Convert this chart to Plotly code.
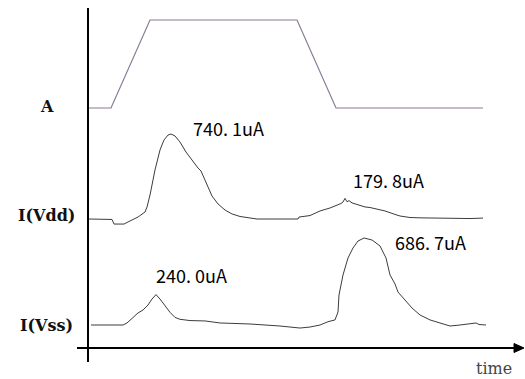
import plotly.graph_objects as go

# ---- data (time in arbitrary units) ----
time_A = [1, 23, 62, 209, 248, 395]
A_level = [0, 0, 1, 1, 0, 0]

time_vdd = [1, 12, 24, 26, 36, 42, 50, 57, 59, 62, 67, 72, 76, 80, 83, 87, 92, 98,
            105, 110, 113, 118, 124, 130, 137, 144, 152, 162, 169, 210, 211, 222,
            232, 242, 250, 253, 255, 257, 259, 261, 264, 267, 272, 277, 282, 287,
            292, 297, 302, 307, 312, 317, 322, 332, 342, 352, 362, 372, 382, 395]
I_vdd = [0, 0, -4, -44, -44, -17, 17, 61, 104, 209, 427, 601, 688, 731, 740.1, 723,
         670, 583, 496, 444, 418, 314, 200, 131, 78, 44, 22, 9, 0, 0, 17, 30,
         70, 96, 122, 135, 148, 179.8, 150, 160, 140, 131, 122, 105, 100, 87,
         80, 70, 52, 40, 26, 20, 13, 10, 9, 5, 4, 6, 4, 8]

time_vss = [3, 35, 39, 45, 50, 55, 60, 64, 68, 72, 77, 82, 87, 92, 102, 117, 132,
            162, 192, 212, 222, 232, 240, 247, 250, 251, 255, 260, 265, 270, 276,
            284, 292, 298, 302, 307, 310, 317, 324, 332, 342, 352, 362, 372, 382,
            388, 391, 395, 398]
I_vss = [0, 0, 16, 55, 95, 118, 158, 205, 240.0, 205, 150, 100, 60, 45, 35, 32,
         16, 8, -8, -24, -16, 0, 26, 40, 103, 237, 395, 529, 608, 663, 686.7, 671,
         624, 529, 395, 324, 260, 197, 134, 79, 40, 16, -8, 0, 8, 16, 4, 0, 0]

peak_labels = ["740. 1uA", "179. 8uA", "240. 0uA", "686. 7uA"]
signal_names = ["A", "I(Vdd)", "I(Vss)"]

# ---- layout constants ----
W, H = 525, 379
A_base, A_gain = 271, 88
vdd_base, vdd_gain = 160, 85 / 740.1
vss_base, vss_gain = 54, 87 / 686.7

fig = go.Figure()
fig.add_trace(go.Scatter(x=time_A, y=[A_base + v * A_gain for v in A_level],
                         mode="lines", line=dict(color="#8a7a98", width=1.2),
                         hoverinfo="skip"))
fig.add_trace(go.Scatter(x=time_vdd, y=[vdd_base + v * vdd_gain for v in I_vdd],
                         mode="lines", line=dict(color="#3c3c3c", width=1),
                         hoverinfo="skip"))
fig.add_trace(go.Scatter(x=time_vss, y=[vss_base + v * vss_gain for v in I_vss],
                         mode="lines", line=dict(color="#3c3c3c", width=1),
                         hoverinfo="skip"))

# axes drawn as shapes (vertical, horizontal with arrow)
shapes = [
    dict(type="line", xref="x", yref="y", x0=0, x1=0, y0=17, y1=371,
         line=dict(color="black", width=2)),
    dict(type="line", xref="x", yref="y", x0=-11, x1=428, y0=31, y1=31,
         line=dict(color="black", width=2)),
    dict(type="path", xref="x", yref="y",
         path="M 426 35.5 L 436 31 L 426 26.5 Z",
         fillcolor="black", line=dict(color="black", width=1)),
]

sans = "Noto Sans CJK SC"
annotations = []
lab_pos = [(140, 251.5), (300.5, 199.5), (103, 104), (342, 137.5)]
for txt, (x, y) in zip(peak_labels, lab_pos):
    annotations.append(dict(x=x, y=y, xref="x", yref="y", text=txt, showarrow=False,
                            font=dict(family=sans, size=18, color="black"),
                            xanchor="center", yanchor="middle"))
name_pos = [(-41, 273), (-41.5, 164), (-42, 54)]
for i, (txt, (x, y)) in enumerate(zip(signal_names, name_pos)):
    annotations.append(dict(x=x, y=y, xref="x", yref="y", text="<b>" + txt + "</b>",
                            showarrow=False,
                            font=dict(family="DejaVu Serif", size=16, color="#111"),
                            xanchor="center", yanchor="middle"))
annotations.append(dict(x=406, y=10.5, xref="x", yref="y", text="time", showarrow=False,
                        font=dict(family="DejaVu Serif", size=16, color="#444"),
                        xanchor="center", yanchor="middle"))

fig.update_layout(
    width=W, height=H, margin=dict(l=0, r=0, t=0, b=0),
    paper_bgcolor="white", plot_bgcolor="white", showlegend=False,
    xaxis=dict(range=[-88, 437], visible=False, fixedrange=True),
    yaxis=dict(range=[0, 379], visible=False, fixedrange=True),
    shapes=shapes, annotations=annotations, hovermode=False,
)
fig.write_html("out.html", config={"displayModeBar": False},
               post_script="document.body.style.margin='0';document.body.style.overflow='hidden';")
